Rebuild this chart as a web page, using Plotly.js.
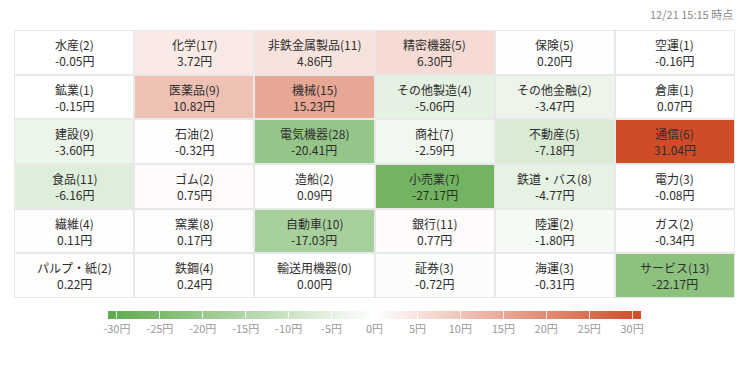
<!DOCTYPE html>
<html>
<head>
<meta charset="utf-8">
<script src="https://cdn.plot.ly/plotly-3.0.1.min.js"></script>
<style>html,body{margin:0;padding:0;background:#fff;}#chart{width:750px;height:370px;}</style>
</head>
<body>
<div id="chart"></div>
<script>
// Sector names, constituent counts and price contributions (円), row by row (6 per row)
var sectors = [
  "水産","化学","非鉄金属製品","精密機器","保険","空運",
  "鉱業","医薬品","機械","その他製造","その他金融","倉庫",
  "建設","石油","電気機器","商社","不動産","通信",
  "食品","ゴム","造船","小売業","鉄道・バス","電力",
  "繊維","窯業","自動車","銀行","陸運","ガス",
  "パルプ・紙","鉄鋼","輸送用機器","証券","海運","サービス"
];
var counts = [
  2,17,11,5,5,1,
  1,9,15,4,2,1,
  9,2,28,7,5,6,
  11,2,2,7,8,3,
  4,8,10,11,2,2,
  2,4,0,3,3,13
];
var values = [
  -0.05,3.72,4.86,6.30,0.20,-0.16,
  -0.15,10.82,15.23,-5.06,-3.47,0.07,
  -3.60,-0.32,-20.41,-2.59,-7.18,31.04,
  -6.16,0.75,0.09,-27.17,-4.77,-0.08,
  0.11,0.17,-17.03,0.77,-1.80,-0.34,
  0.22,0.24,0.00,-0.72,-0.31,-22.17
];
var tickVals = [-30,-25,-20,-15,-10,-5,0,5,10,15,20,25,30];
var tickLabels = ["-30円","-25円","-20円","-15円","-10円","-5円","0円","5円","10円","15円","20円","25円","30円"];
var timestamp = "12/21 15:15 時点";

var FONT = "Noto Sans CJK JP, sans-serif";
var nCols = 6;
var z = [];
var annotations = [];
for (var i = 0; i < values.length; i += nCols) {
  var zr = [];
  for (var j = i; j < i + nCols; j++) zr.push(values[j]);
  z.push(zr);
}
for (var k = 0; k < values.length; k++) {
  var col = k % nCols, row = Math.floor(k / nCols);
  annotations.push({
    x: col, y: row, xref: "x", yref: "y", showarrow: false,
    text: sectors[k] + "(" + counts[k] + ")", yshift: 8,
    font: {family: FONT, size: 12, color: "#2e2e2e"}
  });
  annotations.push({
    x: col, y: row, xref: "x", yref: "y", showarrow: false,
    text: values[k].toFixed(2) + "円", yshift: -8,
    font: {family: FONT, size: 12, color: "#2e2e2e"}
  });
}
annotations.push({
  text: timestamp, xref: "paper", yref: "paper", x: 1, y: 1,
  xanchor: "right", yanchor: "bottom", yshift: 6, showarrow: false,
  font: {family: FONT, size: 11, color: "#888"}
});

var zmax = Math.max.apply(null, values.map(Math.abs));

var trace = {
  type: "heatmap",
  z: z,
  hoverinfo: "skip",
  xgap: 2, ygap: 2,
  zmin: -zmax, zmax: zmax,
  colorscale: [[0, "#5ea94b"], [0.5, "#ffffff"], [1, "#cf4c27"]],
  colorbar: {
    orientation: "h",
    x: 0.5, xanchor: "center",
    y: -0.048, yanchor: "top",
    lenmode: "pixels", len: 533,
    thickness: 8,
    xpad: 0, ypad: 0,
    outlinewidth: 0,
    tickmode: "array",
    tickvals: tickVals,
    ticktext: tickLabels,
    ticks: "inside",
    ticklen: 8,
    tickwidth: 1,
    tickcolor: "rgba(255,255,255,0.8)",
    tickfont: {family: FONT, size: 11, color: "#999"}
  }
};

var layout = {
  width: 750, height: 370,
  margin: {l: 14, r: 15, t: 30, b: 72},
  paper_bgcolor: "#ffffff",
  plot_bgcolor: "#e8e8e8",
  xaxis: {showticklabels: false, showgrid: false, zeroline: false, ticks: "", fixedrange: true},
  yaxis: {showticklabels: false, showgrid: false, zeroline: false, ticks: "", autorange: "reversed", fixedrange: true},
  font: {family: FONT},
  annotations: annotations
};

Plotly.newPlot("chart", [trace], layout, {displayModeBar: false, staticPlot: true});
</script>
</body>
</html>
